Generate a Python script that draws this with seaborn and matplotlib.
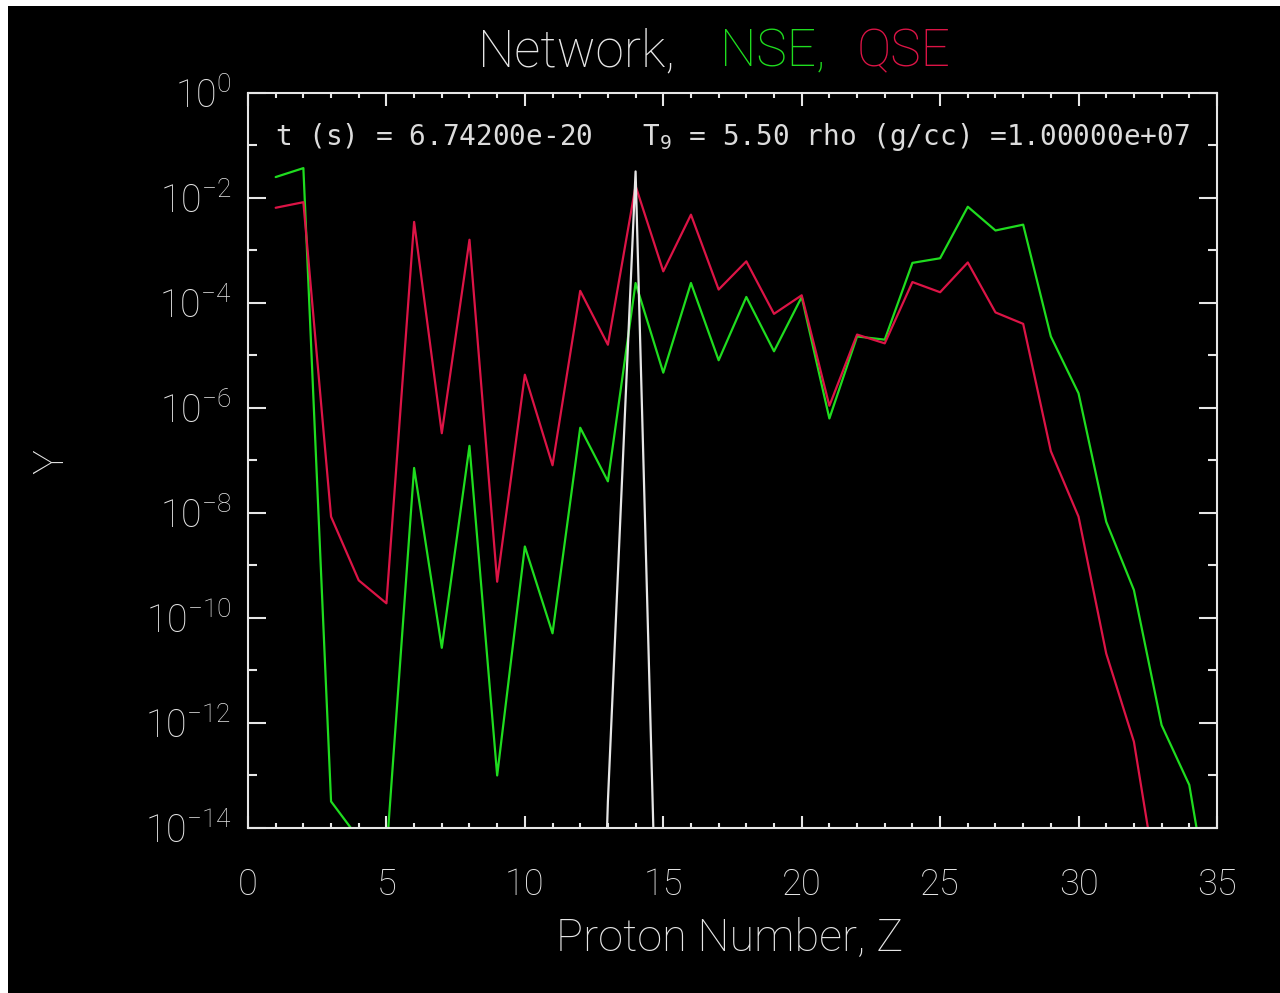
import matplotlib
matplotlib.use("Agg")
import matplotlib.pyplot as plt
import seaborn as sns
import pandas as pd
from matplotlib.patches import Rectangle
from matplotlib.ticker import FixedLocator, FixedFormatter, NullFormatter, MultipleLocator

# ---------------- data ----------------
Z = list(range(1, 36))

network = [1e-30, 1e-30, 1e-30, 1e-30, 1e-30, 1e-30, 1e-30, 1e-30, 1e-30, 1e-30,
           1e-30, 1e-30, 3.2e-14, 3.2e-2, 1e-21, 1e-30, 1e-30, 1e-30, 1e-30, 1e-30,
           1e-30, 1e-30, 1e-30, 1e-30, 1e-30, 1e-30, 1e-30, 1e-30, 1e-30, 1e-30,
           1e-30, 1e-30, 1e-30, 1e-30, 1e-30]

nse = [2.5e-2, 3.7e-2, 3.2e-14, 6.3e-15, 3.2e-15, 7.2e-8, 2.7e-11, 1.9e-7, 1.0e-13, 2.3e-9,
       5.1e-11, 4.2e-7, 4.0e-8, 2.4e-4, 4.7e-6, 2.4e-4, 8.1e-6, 1.3e-4, 1.2e-5, 1.3e-4,
       6.3e-7, 2.3e-5, 2.0e-5, 5.8e-4, 7.1e-4, 6.8e-3, 2.4e-3, 3.1e-3, 2.3e-5, 1.9e-6,
       6.8e-9, 3.4e-10, 9.1e-13, 6.6e-14, 5.0e-17]

qse = [6.5e-3, 8.3e-3, 8.5e-9, 5.2e-10, 1.9e-10, 3.5e-3, 3.3e-7, 1.6e-3, 4.9e-10, 4.3e-6,
       8.1e-8, 1.7e-4, 1.6e-5, 1.7e-2, 4.0e-4, 4.8e-3, 1.8e-4, 6.2e-4, 6.2e-5, 1.4e-4,
       1.1e-6, 2.5e-5, 1.7e-5, 2.5e-4, 1.6e-4, 5.9e-4, 6.6e-5, 4.0e-5, 1.5e-7, 8.5e-9,
       2.1e-11, 4.4e-13, 2.5e-16, 1.0e-18, 1.0e-20]

series_names = ["NSE", "QSE", "Network"]
series_colors = ["#1fdc1f", "#dc1446", "#e6e6e6"]

x_ticks = [0, 5, 10, 15, 20, 25, 30, 35]
x_tick_labels = ["0", "5", "10", "15", "20", "25", "30", "35"]
y_ticks = [1e0, 1e-2, 1e-4, 1e-6, 1e-8, 1e-10, 1e-12, 1e-14]
y_tick_labels = [r"$\mathregular{10^{0}}$", r"$\mathregular{10^{-2}}$",
                 r"$\mathregular{10^{-4}}$", r"$\mathregular{10^{-6}}$",
                 r"$\mathregular{10^{-8}}$", r"$\mathregular{10^{-10}}$",
                 r"$\mathregular{10^{-12}}$", r"$\mathregular{10^{-14}}$"]
y_minor_ticks = [1e-1, 1e-3, 1e-5, 1e-7, 1e-9, 1e-11, 1e-13]

title_parts = ["Network,", "NSE,", "QSE"]
title_colors = ["#e6e6e6", "#1fdc1f", "#dc1446"]
annotation = r"t (s) = 6.74200e-20   T$_\mathregular{9}$ = 5.50 rho (g/cc) =1.00000e+07"
x_label = "Proton Number, Z"
y_label = "Y"

# ---------------- style ----------------
sns.set_style("dark")
FONT = ["Roboto", "DejaVu Sans"]
plt.rcParams.update({
    "font.family": FONT,
    "font.weight": "light",
    "axes.labelweight": "light",
    "text.color": "#e6e6e6",
    "axes.labelcolor": "#e6e6e6",
    "xtick.color": "#e6e6e6",
    "ytick.color": "#e6e6e6",
    "axes.facecolor": "black",
    "figure.facecolor": "black",
})

fig = plt.figure(figsize=(12.8, 9.93), dpi=100, facecolor="black")
# white frame strips at top and left of the picture
fig.patches.append(Rectangle((0, 1 - 6 / 993), 1, 6 / 993, transform=fig.transFigure,
                             facecolor="white", edgecolor="none", zorder=0))
fig.patches.append(Rectangle((0, 0), 8 / 1280, 1, transform=fig.transFigure,
                             facecolor="white", edgecolor="none", zorder=0))

ax = fig.add_axes([0.19375, 0.1662, 0.7570, 0.7402])
ax.set_facecolor("black")
ax.set_yscale("log")

rows = []
for name, vals in zip(["Network", "NSE", "QSE"], [network, nse, qse]):
    for z, v in zip(Z, vals):
        rows.append({"Z": z, "Y": v, "series": name})
df = pd.DataFrame(rows)

sns.lineplot(data=df, x="Z", y="Y", hue="series", hue_order=series_names,
             palette=dict(zip(series_names, series_colors)), estimator=None,
             linewidth=1.6, legend=False, ax=ax)

ax.set_xlim(0, 35)
ax.set_ylim(1e-14, 1)

ax.xaxis.set_major_locator(FixedLocator(x_ticks))
ax.xaxis.set_major_formatter(FixedFormatter(x_tick_labels))
ax.xaxis.set_minor_locator(MultipleLocator(1))
ax.yaxis.set_major_locator(FixedLocator(y_ticks))
ax.yaxis.set_major_formatter(FixedFormatter(y_tick_labels))
ax.yaxis.set_minor_locator(FixedLocator(y_minor_ticks))
ax.yaxis.set_minor_formatter(NullFormatter())

ax.tick_params(which="both", direction="in", top=True, right=True,
               bottom=True, left=True, colors="#e6e6e6", width=1.5)
ax.tick_params(axis="x", which="major", length=9, pad=28, labelsize=26)
ax.tick_params(axis="x", which="minor", length=3.5)
ax.tick_params(axis="y", which="major", length=13, pad=12, labelsize=27)
ax.tick_params(axis="y", which="minor", length=6.5)

for sp in ax.spines.values():
    sp.set_color("#e6e6e6")
    sp.set_linewidth(1.5)
ax.grid(False)

ax.set_xlabel(x_label, fontsize=32.5, color="#e6e6e6", fontweight="light")
ax.xaxis.set_label_coords(0.497, -0.122)
ax.set_ylabel(y_label, fontsize=30, color="#e6e6e6", va="center", fontweight="light")
ax.yaxis.set_label_coords(-0.202, 0.498)

ax.text(0.028, 0.940, annotation, transform=ax.transAxes, fontsize=20,
        family=["DejaVu Sans Mono", "DejaVu Sans"],
        ha="left", va="center", color="#dcdcdc")

title_x = [478 / 1280, 720 / 1280, 857 / 1280]
for txt, col, xx in zip(title_parts, title_colors, title_x):
    fig.text(xx, 0.9476, txt, color=col, fontsize=37, ha="left", va="center",
             fontweight="light")

fig.savefig("out.png", dpi=100, facecolor=fig.get_facecolor())
